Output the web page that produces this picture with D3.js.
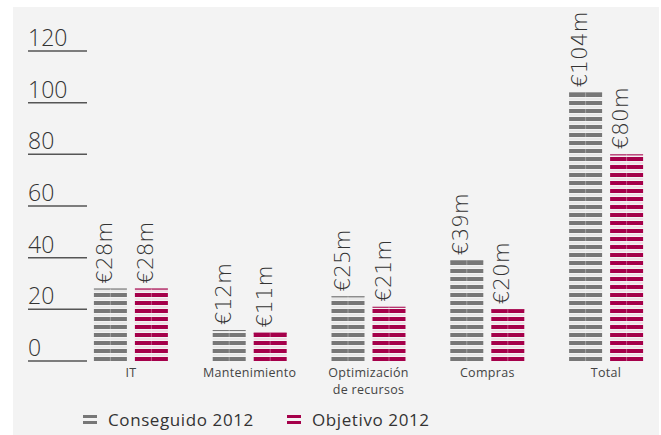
<!DOCTYPE html>
<html>
<meta charset="utf-8"/>
<head>
  <title>Ahorros 2012</title>
  <script src="https://d3js.org/d3.v7.min.js" charset="utf-8"></script>
  <style>
    body { margin: 0; background: #fff; }
    text { font-family: "Open Sans", "Lato", sans-serif; }
    .val { font-family: "DejaVu Sans", sans-serif; font-weight: 200; }
  </style>
</head>
<body>
<script>
  // data
  var categories = ['IT', 'Mantenimiento', 'Optimización\nde recursos', 'Compras', 'Total'];
  var conseguido = [28, 12, 25, 39, 104];
  var objetivo   = [28, 11, 21, 20, 80];
  var yTicks = [0, 20, 40, 60, 80, 100, 120];
  var seriesNames = ['Conseguido 2012', 'Objetivo 2012'];
  var colors = ['#777777', '#a5004a'];
  var gapColors = ['#dedede', '#ecc5d5'];

  var W = 661, H = 435;
  var svg = d3.select('body').append('svg')
      .attr('width', W)
      .attr('height', H);

  // panel
  svg.append('rect')
    .attr('x', 13).attr('y', 7)
    .attr('width', 646).attr('height', 428)
    .attr('fill', '#f3f3f3');

  var x = d3.scaleBand().domain(categories).range([71.5, 665.5]);
  var y = d3.scaleLinear().domain([0, 120]).range([361, 51]);

  // stripe patterns, aligned to the baseline
  var defs = svg.append('defs');
  colors.forEach(function(c, i){
    var p = defs.append('pattern')
      .attr('id', 'stripe-' + i)
      .attr('patternUnits', 'userSpaceOnUse')
      .attr('x', 0).attr('y', y(0) % 8)
      .attr('width', 8).attr('height', 8);
    p.append('rect').attr('x', 0).attr('y', 0).attr('width', 8).attr('height', 8).attr('fill', '#f3f3f3');
    p.append('rect').attr('x', 0).attr('y', 4).attr('width', 8).attr('height', 4).attr('fill', c);
    p.append('rect').attr('x', 0).attr('y', 1.5).attr('width', 8).attr('height', 1).attr('fill', gapColors[i]);
  });

  // y axis: short lines with labels
  var ticks = svg.append('g');
  yTicks.forEach(function(t){
    ticks.append('line')
      .attr('x1', 28).attr('x2', 87)
      .attr('y1', y(t)).attr('y2', y(t))
      .attr('stroke', '#555').attr('stroke-width', 1.5);
    ticks.append('text')
      .attr('x', 28).attr('y', y(t) - 5)
      .attr('font-size', 23).attr('font-weight', 300)
      .attr('fill', '#333')
      .text(t);
  });

  var barW = 33;
  var series = [conseguido, objetivo];
  series.forEach(function(vals, s){
    var g = svg.append('g');
    categories.forEach(function(cat, i){
      var cx = x(cat) + x.bandwidth() / 2;
      var bx = s == 0 ? cx - 37 : cx + 4;
      var top = y(vals[i]);
      g.append('rect')
        .attr('x', bx).attr('y', top)
        .attr('width', barW).attr('height', y(0) - top)
        .attr('fill', 'url(#stripe-' + s + ')');
      g.append('line')
        .attr('x1', bx).attr('x2', bx + barW)
        .attr('y1', top + 0.5).attr('y2', top + 0.5)
        .attr('stroke', colors[s]).attr('stroke-width', 1);
      g.append('line')
        .attr('x1', bx + barW / 2).attr('x2', bx + barW / 2)
        .attr('y1', top).attr('y2', y(0))
        .attr('stroke', '#f3f3f3').attr('stroke-opacity', 0.35).attr('stroke-width', 1);
      g.append('text')
        .attr('class', 'val')
        .attr('transform', 'translate(' + (bx + 18) + ',' + (top - 5) + ') rotate(-90)')
        .attr('font-size', 21.5)
        .attr('fill', '#333')
        .text('€' + vals[i] + 'm');
    });
  });

  // category labels (one text per line)
  categories.forEach(function(cat){
    var lines = cat.split('\n');
    lines.forEach(function(l, j){
      svg.append('text')
        .attr('x', x(cat) + x.bandwidth() / 2)
        .attr('y', 377 + j * 17)
        .attr('text-anchor', 'middle')
        .attr('font-size', 12.5)
        .attr('letter-spacing', 0.3)
        .attr('fill', '#444')
        .text(l);
    });
  });

  // legend
  var legendX = [83, 287];
  seriesNames.forEach(function(name, i){
    var lg = svg.append('g').attr('transform', 'translate(' + legendX[i] + ',420)');
    lg.append('rect').attr('x', 0).attr('y', -5).attr('width', 14).attr('height', 3).attr('fill', colors[i]);
    lg.append('rect').attr('x', 0).attr('y', 1).attr('width', 14).attr('height', 3).attr('fill', colors[i]);
    lg.append('text')
      .attr('x', 25).attr('y', 6)
      .attr('font-size', 17)
      .attr('letter-spacing', 0.6)
      .attr('fill', '#333')
      .text(name);
  });
</script>
</body>
</html>
